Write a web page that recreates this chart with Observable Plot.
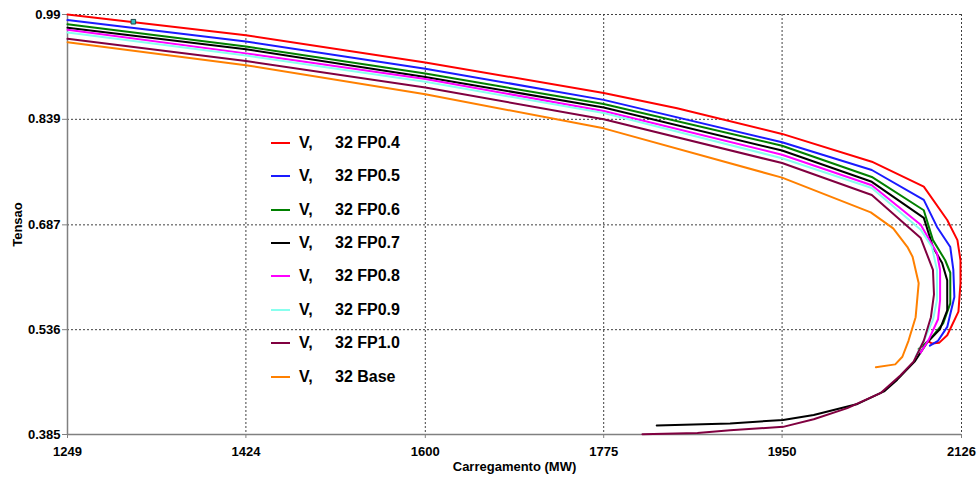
<!DOCTYPE html>
<html>
<head>
<meta charset="utf-8">
<script src="https://cdn.jsdelivr.net/npm/d3@7"></script>
<script src="https://cdn.jsdelivr.net/npm/@observablehq/plot@0.6"></script>
<style>
  html, body { margin: 0; padding: 0; background: #fff; }
  #wrap { position: relative; width: 979px; height: 479px; font-family: "Liberation Sans", Arial, sans-serif; }
  #legend { position: absolute; left: 0; top: 0; }
  .row { position: absolute; display: flex; align-items: center; height: 20px; font-weight: bold; font-size: 16px; color: #000; white-space: pre; }
  .sw { width: 19px; height: 2px; margin-right: 9px; }
  .v { width: 36px; }
</style>
</head>
<body>
<div id="wrap"><div id="legend"></div></div>
<script>
// ---- data ----
const seriesNames = ["FP0.4", "FP0.5", "FP0.6", "FP0.7", "FP0.8", "FP0.9", "FP1.0", "Base"];
const seriesColors = ["#ff0000", "#1a1aff", "#008000", "#000000", "#ff00ff", "#88ffee", "#800040", "#ff8000"];
const legendLabels = ["32 FP0.4", "32 FP0.5", "32 FP0.6", "32 FP0.7", "32 FP0.8", "32 FP0.9", "32 FP1.0", "32 Base"];
const xTicks = [1249, 1424, 1600, 1775, 1950, 2126];
const yTicks = [0.385, 0.536, 0.687, 0.839, 0.99];

const fp04 = [[1249,0.990],[1424,0.960],[1600,0.921],[1775,0.877],[1847,0.855],[1950,0.818],[2038,0.778],[2089,0.742],[2112,0.694],[2122,0.665],[2125,0.636],[2125,0.603],[2123,0.562],[2112,0.528],[2104,0.517],[2097,0.516],[2094,0.519]];
const fp05 = [[1249,0.982],[1424,0.951],[1600,0.912],[1775,0.867],[1950,0.806],[2038,0.766],[2089,0.723],[2102,0.684],[2115,0.655],[2118,0.622],[2119,0.583],[2112,0.540],[2103,0.520],[2095,0.513]];
const fp06 = [[1249,0.976],[1424,0.944],[1600,0.905],[1775,0.861],[1950,0.801],[2038,0.756],[2089,0.708],[2098,0.665],[2110,0.636],[2115,0.618],[2115,0.574],[2108,0.545],[2095,0.522],[2084,0.508]];
const fp07 = [[1249,0.971],[1424,0.940],[1600,0.900],[1775,0.856],[1950,0.794],[2038,0.749],[2089,0.697],[2098,0.655],[2107,0.632],[2112,0.607],[2112,0.564],[2105,0.537],[2092,0.517],[2080,0.490],[2063,0.464],[2050,0.447],[2024,0.429],[1981,0.413],[1951,0.406],[1899,0.401],[1827,0.398]];
const fp08 = [[1249,0.968],[1424,0.934],[1600,0.897],[1775,0.851],[1950,0.788],[2038,0.744],[2086,0.687],[2102,0.646],[2105,0.622],[2105,0.579],[2103,0.551],[2094,0.522],[2086,0.503]];
const fp09 = [[1249,0.964],[1424,0.931],[1600,0.893],[1775,0.848],[1950,0.783],[2038,0.740],[2086,0.680],[2097,0.655],[2102,0.622],[2102,0.579],[2098,0.550],[2089,0.520],[2081,0.497]];
const fp10 = [[1249,0.955],[1424,0.923],[1600,0.885],[1775,0.839],[1950,0.776],[2038,0.730],[2086,0.668],[2098,0.622],[2099,0.587],[2096,0.554],[2089,0.520],[2079,0.490],[2066,0.470],[2047,0.445],[2014,0.423],[1981,0.407],[1951,0.396],[1899,0.391],[1867,0.387],[1813,0.3855]];
const base = [[1249,0.950],[1424,0.917],[1600,0.875],[1775,0.826],[1950,0.755],[2037,0.705],[2059,0.682],[2073,0.655],[2078,0.641],[2084,0.603],[2081,0.554],[2074,0.520],[2068,0.497],[2061,0.486],[2042,0.482]];
const cursorPoint = [[1313.6, 0.9796]];

const allSeries = [fp04, fp05, fp06, fp07, fp08, fp09, fp10, base];

// ---- build table ----
const table = [];
allSeries.forEach((s, i) => s.forEach(([x, y], k) => table.push({series: seriesNames[i], x, y, k})));

const chart = Plot.plot({
  width: 979,
  height: 479,
  marginLeft: 67,
  marginRight: 18,
  marginTop: 14,
  marginBottom: 45,
  style: {fontFamily: "'Liberation Sans', Arial, sans-serif", fontSize: "13px", fontWeight: "bold", color: "#000", background: "#fff"},
  x: {domain: [1249, 2126]},
  y: {domain: [0.385, 0.99]},
  color: {domain: seriesNames, range: seriesColors},
  marks: [
    Plot.gridX(xTicks.slice(1), {stroke: "#404040", strokeOpacity: 1, strokeDasharray: "2,2"}),
    Plot.gridY(yTicks.slice(1), {stroke: "#404040", strokeOpacity: 1, strokeDasharray: "2,2"}),
    Plot.axisX(xTicks, {tickSize: 4, tickPadding: 8, stroke: "#808080", tickFormat: d => String(d),
      label: "Carregamento (MW)", labelAnchor: "center", labelArrow: "none", labelOffset: 36}),
    Plot.axisY(yTicks, {tickSize: 5, tickPadding: 2, stroke: "#808080", tickFormat: d => String(d),
      label: "Tensao", labelAnchor: "center", labelArrow: "none", labelOffset: 55}),
    Plot.ruleX([1249], {stroke: "#808080", strokeWidth: 1.5}),
    Plot.ruleY([0.385], {stroke: "#808080", strokeWidth: 1.5}),
    Plot.line(table, {x: "x", y: "y", z: "series", stroke: "series", strokeWidth: 2, curve: "linear"}),
    Plot.dot(cursorPoint, {x: d => d[0], y: d => d[1], symbol: "square", r: 2.6, fill: "#30c0c0", stroke: "#204848", strokeWidth: 1})
  ]
});

const wrap = document.getElementById("wrap");
wrap.insertBefore(chart, wrap.firstChild);

// ---- legend (HTML overlay) ----
const legend = document.getElementById("legend");
seriesNames.forEach((name, i) => {
  const row = document.createElement("div");
  row.className = "row";
  row.style.left = "271px";
  row.style.top = (132.7 + i * 33.4) + "px";
  row.innerHTML = `<span class="sw" style="background:${seriesColors[i]}"></span><span class="v">V,</span><span>${legendLabels[i]}</span>`;
  legend.appendChild(row);
});
</script>
</body>
</html>
